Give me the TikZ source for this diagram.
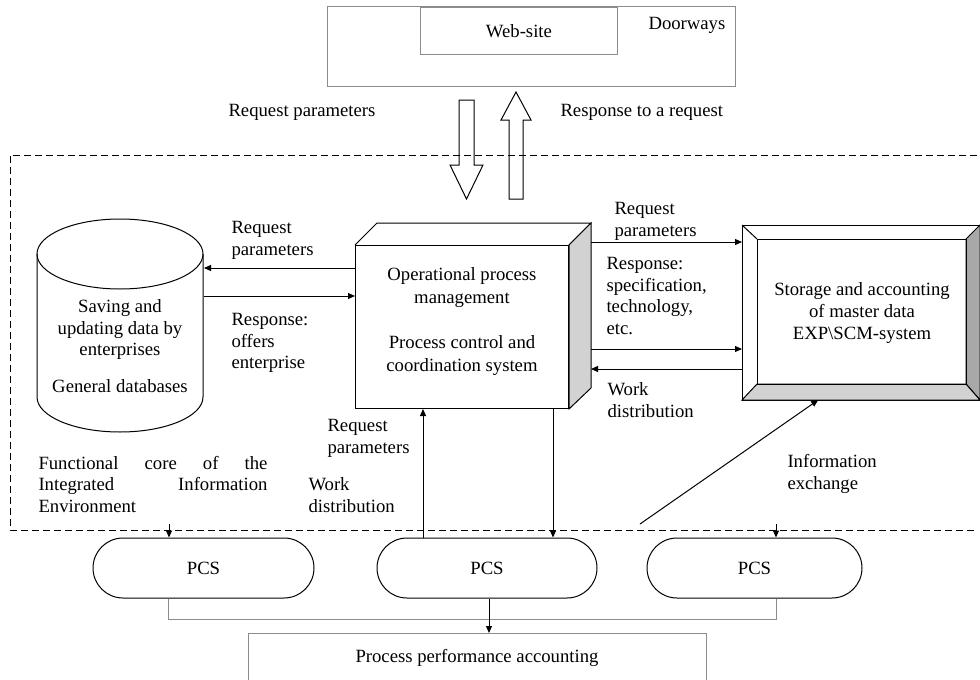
\documentclass[tikz,border=0pt]{standalone}
\usepackage{fontspec}
\setmainfont{Liberation Serif}
\usetikzlibrary{arrows.meta,calc}
\newcommand\dfont{\fontsize{18.7}{21.8}\selectfont}
\definecolor{edgegray}{HTML}{8C8C8C}
\definecolor{sidegray}{HTML}{D2D2D2}
\definecolor{bevelgray}{HTML}{A8A8A8}

\begin{document}
\begin{tikzpicture}[x=1pt,y=-1pt,line width=1pt,
  lbl/.style={font=\dfont,align=left,anchor=west,inner sep=0pt},
  ctext/.style={font=\dfont,align=center,inner sep=0pt},
  arr/.style={-{Triangle[length=7pt,width=6pt]}},
  thinbox/.style={draw=edgegray,line width=0.9pt},
  pill/.style={draw,rounded corners=30pt,minimum height=60pt,font=\dfont,inner sep=0pt},
  region/.style={dash pattern=on 7pt off 4pt},
  blockarrow/.style={draw,fill=white,line width=1pt}
]
\useasboundingbox (0,0) rectangle (980,680);

% portal with the web-site
\node[thinbox,minimum width=408pt,minimum height=80pt,anchor=north west,inner sep=0pt] (door) at (327,6) {};
\node[thinbox,minimum width=197pt,minimum height=47pt,anchor=north west,inner sep=0pt,font=\dfont] (web) at (420,7) {Web-site};
\node[lbl] (doorlbl) at (648,25) {Doorways};

% request / response block arrows
\draw[blockarrow] (459,100) -- (474,100) -- (474,165) -- (483,165) -- (466.5,199) -- (450,165) -- (459,165) -- cycle;
\draw[blockarrow] (509,199) -- (523,199) -- (523,120) -- (531,120) -- (516,92) -- (501,120) -- (509,120) -- cycle;
\node[lbl] (rqtop) at (228,112) {Request parameters};
\node[lbl] (rsptop) at (560,112) {Response to a request};

% functional core boundary (open on the right)
\node[minimum width=966pt,minimum height=374pt,anchor=north west,inner sep=0pt] (core) at (10,155) {};
\draw[region] (core.north east) -- (core.north west) -- (core.south west) -- (core.south east);

% general databases cylinder
\node[minimum width=166pt,minimum height=214pt,anchor=north west,inner sep=0pt] (db) at (37,218) {};
\draw (120,254) ellipse [x radius=83,y radius=35];
\draw (37,254) -- (37,397) arc [start angle=180,end angle=0,x radius=83,y radius=35] -- (203,254);
\node[ctext] (dbtext) at (120,346) {Saving and\\updating data by\\enterprises\\[15pt]General databases};

% operational process management block
\node[draw,fill=white,minimum width=213pt,minimum height=163pt,anchor=north west,inner sep=0pt] (opm) at (355,245) {};
\node[minimum width=213pt,minimum height=164pt,anchor=north west,inner sep=0pt] (opmback) at (377,223) {};
\draw (opm.north west) -- (opmback.north west) -- (opmback.north east) -- (opm.north east);
\draw[fill=sidegray] (opm.north east) -- (opmback.north east) -- (opmback.south east) -- (opm.south east) -- cycle;
\node[ctext,font=\fontsize{18.7}{23.5}\selectfont] (opmtext) at (462,321.5) {Operational process\\management\\[21pt]Process control and\\coordination system};

% master data storage block
\node[minimum width=237pt,minimum height=174pt,anchor=north west,inner sep=0pt] (sam) at (742,225) {};
\node[minimum width=208pt,minimum height=144pt,anchor=north west,inner sep=0pt] (saminner) at (757,239) {};
\draw[fill=white] (sam.north west) rectangle (sam.south east);
\draw[fill=bevelgray] (sam.north east) -- (sam.south east) -- (saminner.south east) -- (saminner.north east) -- cycle;
\draw[fill=sidegray] (sam.south west) -- (sam.south east) -- (saminner.south east) -- (saminner.south west) -- cycle;
\draw (sam.north west) -- (saminner.north west);
\draw (saminner.north west) rectangle (saminner.south east);
\node[ctext] (samtext) at (862,313) {Storage and accounting\\of master data\\EXP\textbackslash SCM-system};

% database exchange
\coordinate (y1) at (0,268);
\coordinate (y2) at (0,296);
\draw[arr] (opm.west |- y1) -- (db.east |- y1);
\draw[arr] (db.east |- y2) -- (opm.west |- y2);
\node[lbl] (lrq) at (231,240) {Request\\parameters};
\node[lbl] (lrs) at (231,343) {Response:\\offers\\enterprise};

% master data exchange
\coordinate (y3) at (0,242);
\coordinate (y4) at (0,349);
\coordinate (y5) at (0,369);
\draw[arr] (opmback.east |- y3) -- (sam.west |- y3);
\draw[arr] (opmback.east |- y4) -- (sam.west |- y4);
\draw[arr] (sam.west |- y5) -- (opmback.east |- y5);
\node[lbl] (rrq) at (614,221) {Request\\parameters};
\node[lbl] (rrs) at (606,296) {Response:\\specification,\\technology,\\etc.};
\node[lbl] (rwd) at (607,400) {Work\\distribution};

% lower labels
\node[lbl] (brq) at (327,438) {Request\\parameters};
\node[lbl] (bwd) at (308,495) {Work\\distribution};
\node[lbl] (fcore) at (38,484.5) {\makebox[229pt][s]{Functional core of the}\\\makebox[229pt][s]{Integrated Information}\\Environment};
\node[lbl] (iex) at (787,474) {Information\\exchange};

% process control systems
\node[pill,minimum width=221pt] (pcs1) at (203.5,568) {PCS};
\node[pill,minimum width=220pt] (pcs2) at (487,568) {PCS};
\node[pill,minimum width=215pt] (pcs3) at (754.5,568) {PCS};

\coordinate (xa) at (423,0);
\coordinate (xb) at (553,0);
\draw[arr] (xa |- pcs2.north) -- (xa |- opm.south);
\draw[arr] (xb |- opm.south) -- (xb |- pcs2.north);

\coordinate (s1) at (169,524);
\coordinate (s3) at (776,524);
\draw[arr] (s1) -- (s1 |- pcs1.north);
\draw[arr] (s3) -- (s3 |- pcs3.north);

\coordinate (ie) at (640,524);
\draw[arr] (ie) -- ($(sam.south west)!0.32!(sam.south east)$);

% performance accounting
\coordinate (bl) at (168,619);
\coordinate (br) at (776,619);
\draw[edgegray,line width=0.9pt] (bl |- pcs1.south) -- (bl) -- (br) -- (br |- pcs3.south);
\node[thinbox,minimum width=458pt,minimum height=60pt,anchor=north west,inner sep=0pt] (ppa) at (248,633) {};
\node[ctext] (ppatext) at (477,658) {Process performance accounting};
\coordinate (xc) at (489,0);
\draw[arr] (xc |- pcs2.south) -- (xc |- ppa.north);
\end{tikzpicture}
\end{document}
